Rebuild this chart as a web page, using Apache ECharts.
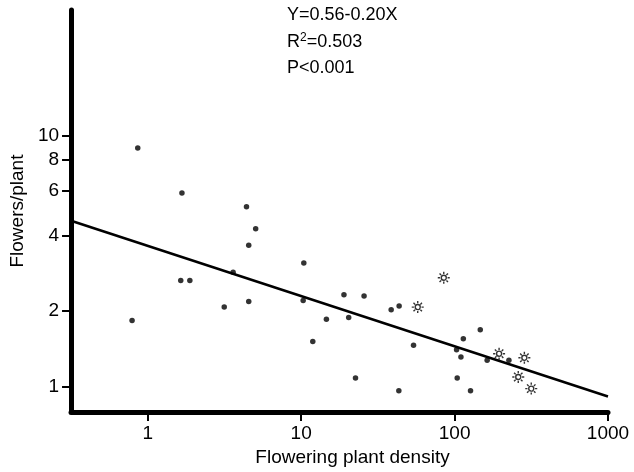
<!DOCTYPE html>
<html>
<head>
<meta charset="utf-8">
<script src="https://cdn.jsdelivr.net/npm/echarts@6/dist/echarts.min.js"></script>
<style>
  html, body { margin: 0; padding: 0; background: #fff; }
  #chart { width: 634px; height: 472px; }
</style>
</head>
<body>
<div id="chart"></div>
<script>
// Site observations: density of flowering plants vs. flowers per plant
const dotDensity = [0.86, 1.67, 4.4, 5.05, 4.55, 3.6, 1.64, 1.88, 0.79, 3.15, 4.55,
  10.4, 10.3, 11.9, 14.6, 19.0, 20.4, 25.7, 22.6, 38.6, 43.5, 43.3, 54,
  103, 110, 114, 147, 104, 127, 163, 226];
const dotFlowers = [8.9, 5.9, 5.2, 4.25, 3.65, 2.85, 2.64, 2.64, 1.83, 2.07, 2.18,
  3.1, 2.2, 1.51, 1.85, 2.32, 1.88, 2.29, 1.08, 2.02, 2.09, 0.96, 1.46,
  1.4, 1.31, 1.55, 1.68, 1.08, 0.96, 1.27, 1.27];

// Second group of sites (open star markers)
const starDensity = [57.5, 85, 195, 285, 260, 316];
const starFlowers = [2.07, 2.71, 1.35, 1.3, 1.09, 0.98];

// Fitted log-log regression: log10(Y) = 0.56 - 0.20 log10(X)
const fitIntercept = 0.56;
const fitSlope = -0.20;
const fitRange = [0.316, 1000];

const xTicks = [1, 10, 100, 1000];
const yTicks = [1, 2, 4, 6, 8, 10];

const fitLine = fitRange.map(x => [x, Math.pow(10, fitIntercept + fitSlope * Math.log10(x))]);

const starPath = 'path://M14 10 A4 4 0 1 1 6 10 A4 4 0 1 1 14 10 Z ' +
  'M10 0.5 L10 4 M10 16 L10 19.5 M0.5 10 L4 10 M16 10 L19.5 10 ' +
  'M3.3 3.3 L5.8 5.8 M14.2 14.2 L16.7 16.7 M16.7 3.3 L14.2 5.8 M5.8 14.2 L3.3 16.7';

const font = 'Liberation Sans';
const chart = echarts.init(document.getElementById('chart'));

chart.setOption({
  animation: false,
  backgroundColor: '#fff',
  grid: { left: 67, right: 26, top: 10, bottom: 59, containLabel: false },
  xAxis: {
    type: 'log',
    logBase: 10,
    min: fitRange[0],
    max: fitRange[1],
    name: 'Flowering plant density',
    nameLocation: 'middle',
    nameGap: 33,
    nameTextStyle: { fontFamily: font, fontSize: 19, color: '#000', padding: [0, 0, 0, 26] },
    axisLine: { show: true, lineStyle: { color: '#000', width: 5 } },
    axisTick: { show: true, customValues: xTicks, length: 9, lineStyle: { color: '#000', width: 2 } },
    axisLabel: { customValues: xTicks, fontFamily: font, fontSize: 19, color: '#000', margin: 12,
      formatter: v => String(Math.round(v)) },
    splitLine: { show: false },
    minorTick: { show: false }
  },
  yAxis: {
    type: 'log',
    logBase: 10,
    min: 0.79,
    max: 31.6,
    name: 'Flowers/plant',
    nameLocation: 'middle',
    nameGap: 42,
    nameRotate: 90,
    nameTextStyle: { fontFamily: font, fontSize: 19, color: '#000' },
    axisLine: { show: true, lineStyle: { color: '#000', width: 5 } },
    axisTick: { show: true, customValues: yTicks, length: 9, lineStyle: { color: '#000', width: 2 } },
    axisLabel: { customValues: yTicks, fontFamily: font, fontSize: 19, color: '#000', margin: 12,
      formatter: v => String(Math.round(v)) },
    splitLine: { show: false },
    minorTick: { show: false }
  },
  series: [
    {
      type: 'line',
      data: fitLine,
      symbol: 'none',
      lineStyle: { color: '#000', width: 2.5 },
      z: 2
    },
    {
      type: 'scatter',
      data: dotDensity.map((x, i) => [x, dotFlowers[i]]),
      symbol: 'circle',
      symbolSize: 5.5,
      itemStyle: { color: '#000' },
      z: 3
    },
    {
      type: 'scatter',
      data: starDensity.map((x, i) => [x, starFlowers[i]]),
      symbol: starPath,
      symbolSize: 12,
      itemStyle: { color: '#fff', borderColor: '#000', borderWidth: 1.4 },
      z: 4
    }
  ],
  graphic: [
    { type: 'text', left: 287, top: 6,
      style: { text: 'Y=0.56-0.20X', font: '18px "Liberation Sans"', fill: '#000' } },
    { type: 'text', left: 287, top: 32,
      style: { text: 'R{sup|2}=0.503', font: '18px "Liberation Sans"', fill: '#000',
        rich: { sup: { fontSize: 12, fontFamily: font, verticalAlign: 'top', padding: [0, 0, 8, 0] } } } },
    { type: 'text', left: 287, top: 59,
      style: { text: 'P<0.001', font: '18px "Liberation Sans"', fill: '#000' } }
  ]
});
</script>
</body>
</html>
